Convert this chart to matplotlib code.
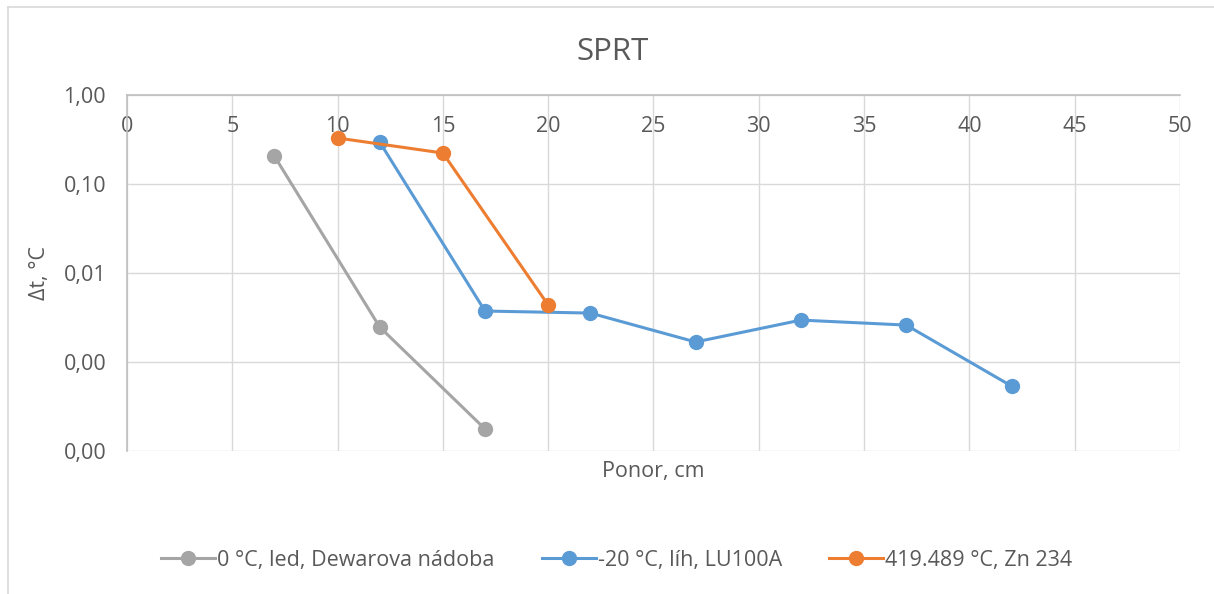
import matplotlib
matplotlib.use("Agg")
import matplotlib.pyplot as plt
from matplotlib.lines import Line2D
from matplotlib.ticker import FixedLocator, FuncFormatter, NullLocator

plt.rcParams['font.family'] = ['Open Sans', 'DejaVu Sans']

# data
x_ice = [7, 12, 17]
dt_ice = [0.206, 0.00247, 0.000177]
x_alc = [12, 17, 22, 27, 32, 37, 42]
dt_alc = [0.296, 0.00374, 0.00355, 0.00168, 0.00296, 0.00260, 0.000537]
x_zn = [10, 15, 20]
dt_zn = [0.329, 0.223, 0.00437]
labels = ["0 °C, led, Dewarova nádoba", "-20 °C, líh, LU100A", "419.489 °C, Zn 234"]
colors = ["#A5A5A5", "#5B9BD5", "#ED7D31"]

text_c = "#595959"
fs = 15.5
fig = plt.figure(figsize=(12.14, 5.94), dpi=100)
ax = fig.add_axes([0.1046, 0.2407, 0.8674, 0.5993])

for xs, ys, lab, c in zip([x_ice, x_alc, x_zn], [dt_ice, dt_alc, dt_zn], labels, colors):
    ax.plot(xs, ys, color=c, lw=2.2, marker='o', ms=10, label=lab, zorder=3)

ax.set_yscale('log')
ax.set_ylim(1e-4, 1)
ax.set_xlim(0, 50)
ax.yaxis.set_major_locator(FixedLocator([1e-4, 1e-3, 1e-2, 1e-1, 1]))
ax.yaxis.set_minor_locator(NullLocator())
ax.yaxis.set_major_formatter(FuncFormatter(lambda v, p: ("%.2f" % v).replace('.', ',')))
ax.set_xticks(range(0, 51, 5))

ax.grid(True, color="#D9D9D9", lw=1)
ax.set_axisbelow(True)
for s in ['right', 'bottom']:
    ax.spines[s].set_visible(False)
for s in ['left', 'top']:
    ax.spines[s].set_color("#BFBFBF")
    ax.spines[s].set_linewidth(1.2)

ax.tick_params(axis='x', top=True, bottom=False, labeltop=True, labelbottom=False,
               length=0, pad=-30, labelsize=fs, labelcolor=text_c)
ax.tick_params(axis='y', length=0, pad=15, labelsize=fs, labelcolor=text_c)

ax.xaxis.set_label_position('bottom')
ax.set_xlabel("Ponor, cm", fontsize=fs, color=text_c, labelpad=7)
ax.set_ylabel("Δt, °C", fontsize=fs, color=text_c, labelpad=10)
fig.text(0.5045, 0.912, "SPRT", ha='center', va='center', fontsize=22.5, color=text_c)

handles = [Line2D([], [], color=c, lw=2.2, marker='o', ms=10) for c in colors]
fig.legend(handles, labels, loc='center', bbox_to_anchor=(0.508, 0.057), ncol=3,
           frameon=False, fontsize=fs, labelcolor=text_c, handlelength=2.5,
           handletextpad=0.1, columnspacing=2.2)

# chart area border (left and top visible in the reference)
fig.add_artist(Line2D([8/1214, 8/1214], [0, 1 - 7/594], color="#D9D9D9", lw=1.2))
fig.add_artist(Line2D([8/1214, 1], [1 - 7/594, 1 - 7/594], color="#D9D9D9", lw=1.2))

fig.savefig("out.png", dpi=100)
